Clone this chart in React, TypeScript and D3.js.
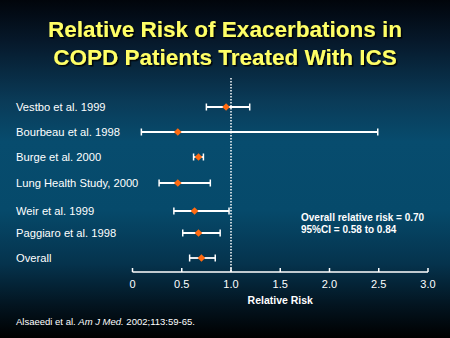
import React from "react";
import * as d3 from "d3";

const studies = [
  "Vestbo et al. 1999",
  "Bourbeau et al. 1998",
  "Burge et al. 2000",
  "Lung Health Study, 2000",
  "Weir et al. 1999",
  "Paggiaro et al. 1998",
  "Overall",
];
const rr = [0.95, 0.46, 0.67, 0.46, 0.63, 0.67, 0.7];
const ciLow = [0.75, 0.09, 0.62, 0.27, 0.42, 0.51, 0.58];
const ciHigh = [1.19, 2.49, 0.72, 0.79, 0.98, 0.89, 0.84];
const rowY = [107, 132, 157, 183, 211, 233, 258];
const ticks = [0, 0.5, 1.0, 1.5, 2.0, 2.5, 3.0];
const tickLabels = ["0", "0.5", "1.0", "1.5", "2.0", "2.5", "3.0"];

export default function App() {
  const W = 450, H = 338;
  const x = d3.scaleLinear().domain([0, 3]).range([132.5, 428]);
  const axisY = 272;
  const font = "Arial, 'Liberation Sans', sans-serif";
  return (
    <svg width={W} height={H} style={{ position: "absolute", left: 0, top: 0 }} fontFamily={font}>
      <defs>
        <linearGradient id="bg" x1="0" y1="0" x2="0" y2="1">
          <stop offset="0" stopColor="#01050b" />
          <stop offset="0.12" stopColor="#06182a" />
          <stop offset="0.3" stopColor="#0a3b58" />
          <stop offset="0.42" stopColor="#074c6e" />
          <stop offset="0.62" stopColor="#064a6b" />
          <stop offset="0.78" stopColor="#05334d" />
          <stop offset="0.9" stopColor="#031521" />
          <stop offset="1" stopColor="#000000" />
        </linearGradient>
        <filter id="sh" x="-10%" y="-10%" width="120%" height="130%">
          <feDropShadow dx="1.5" dy="1.5" stdDeviation="0.6" floodColor="#000" floodOpacity="0.9" />
        </filter>
      </defs>
      <rect width={W} height={H} fill="url(#bg)" />
      <g fill="#ffff66" fontWeight="bold" fontSize="22.5" textAnchor="middle" filter="url(#sh)">
        <text x={225} y={37}>Relative Risk of Exacerbations in</text>
        <text x={225} y={64.5}>COPD Patients Treated With ICS</text>
      </g>
      <line x1={x(1)} x2={x(1)} y1={78} y2={axisY} stroke="#fff" strokeWidth={1.5} strokeDasharray="1.5,1.5" />
      {studies.map((s, i) => (
        <g key={s}>
          <text x={16} y={rowY[i] + 4} fill="#fff" fontSize="11.2">{s}</text>
          <line x1={x(ciLow[i])} x2={x(ciHigh[i])} y1={rowY[i]} y2={rowY[i]} stroke="#fff" strokeWidth={1.8} />
          <line x1={x(ciLow[i])} x2={x(ciLow[i])} y1={rowY[i] - 3.5} y2={rowY[i] + 3.5} stroke="#fff" strokeWidth={1.5} />
          <line x1={x(ciHigh[i])} x2={x(ciHigh[i])} y1={rowY[i] - 3.5} y2={rowY[i] + 3.5} stroke="#fff" strokeWidth={1.5} />
          <path
            d={`M${x(rr[i])},${rowY[i] - 3.8} L${x(rr[i]) + 3.8},${rowY[i]} L${x(rr[i])},${rowY[i] + 3.8} L${x(rr[i]) - 3.8},${rowY[i]} Z`}
            fill="#ff6a10"
          />
        </g>
      ))}
      <line x1={x(0)} x2={x(3)} y1={axisY} y2={axisY} stroke="#fff" strokeWidth={1.5} />
      {ticks.map((t, i) => (
        <g key={t}>
          <line x1={x(t)} x2={x(t)} y1={axisY} y2={axisY - 4} stroke="#fff" strokeWidth={1.5} />
          <text x={x(t)} y={axisY + 16} fill="#fff" fontSize="11" textAnchor="middle">{tickLabels[i]}</text>
        </g>
      ))}
      <text x={x(1.5)} y={304} fill="#fff" fontSize="10.5" fontWeight="bold" textAnchor="middle">Relative Risk</text>
      <g fill="#fff" fontSize="10" fontWeight="bold">
        <text x={301} y={221}>Overall relative risk = 0.70</text>
        <text x={301} y={233}>95%CI = 0.58 to 0.84</text>
      </g>
      <text x={16} y={325} fill="#fff" fontSize="9.5">
        Alsaeedi et al. <tspan fontStyle="italic">Am J Med.</tspan> 2002;113:59-65.
      </text>
    </svg>
  );
}
